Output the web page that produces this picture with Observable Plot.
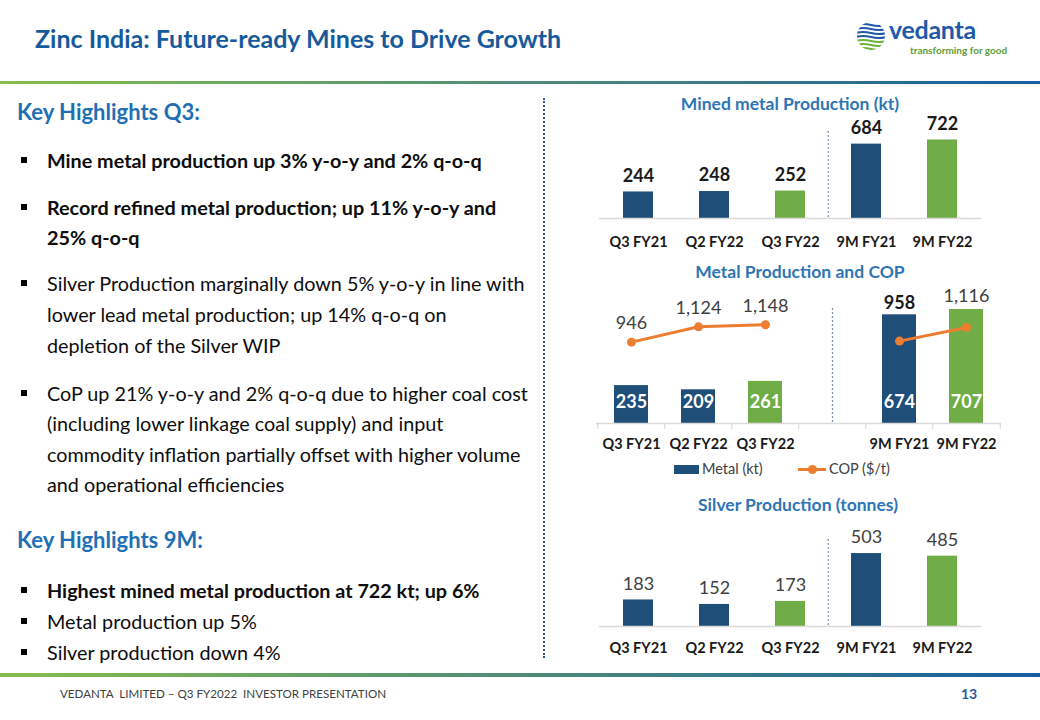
<!DOCTYPE html>
<html><head><meta charset="utf-8">
<script src="https://cdn.jsdelivr.net/npm/d3@7"></script>
<script src="https://cdn.jsdelivr.net/npm/@observablehq/plot@0.6"></script>
<style>
body{margin:0;background:#fff;}
#slide{position:relative;width:1040px;height:720px;overflow:hidden;background:#fff;font-family:Lato,"Open Sans",sans-serif;color:#0d0d0d;}
.abs{position:absolute;white-space:nowrap;}
.title{left:35px;top:23px;font-size:25px;font-weight:bold;color:#175a9c;line-height:30px;}
.hdr{left:17px;font-size:22px;font-weight:bold;color:#1f6fb5;line-height:30px;}
.blt{left:47px;font-size:19.8px;}
.blt .sq{position:absolute;left:-26px;width:6px;height:6px;background:#000;}
.b{font-weight:bold;}
.ctitle{font-size:17.5px;font-weight:bold;color:#2e75b6;text-align:center;width:320px;line-height:20px;}
.chart{position:absolute;}
.legend{font-size:14.5px;color:#404040;line-height:18px;}
</style></head><body><div id="slide">
  <div class="abs title">Zinc India: Future-ready Mines to Drive Growth</div>
  <div class="abs" style="left:0;top:81px;width:1040px;height:3px;background:linear-gradient(to right,#86bd4f,#1a5ca0);"></div>
  <svg class="abs" style="left:855px;top:20px" width="32" height="32" viewBox="0 0 32 32">
    <defs><clipPath id="gc"><circle cx="16" cy="16" r="14"/></clipPath></defs>
    <g clip-path="url(#gc)" fill="none" stroke-width="2.2">
      <path d="M0 5 Q8 3 16 5 T32 5" stroke="#1e5aa8"/>
      <path d="M0 9 Q8 7 16 9 T32 9" stroke="#1e5aa8"/>
      <path d="M0 13 Q8 11 16 13 T32 13" stroke="#1e5aa8"/>
      <path d="M0 17 Q8 15 16 17 T32 17" stroke="#1e5aa8"/>
      <path d="M0 21 Q8 19 16 21 T32 21" stroke="#6db33f"/>
      <path d="M0 25 Q8 23 16 25 T32 25" stroke="#6db33f"/>
      <path d="M0 29 Q8 27 16 29 T32 29" stroke="#6db33f"/>
    </g>
  </svg>
  <div class="abs" style="left:889px;top:18px;font-size:25px;font-weight:bold;color:#1e5aa8;line-height:22px;letter-spacing:-0.3px;">vedanta</div>
  <div class="abs" style="left:910px;top:45px;font-size:10px;font-weight:bold;color:#5a9e3a;line-height:11px;">transforming for good</div>

  <div class="abs hdr" style="top:97px">Key Highlights Q3:</div>
  <div class="abs blt b" style="top:145px;line-height:30px"><span class="sq" style="top:12px"></span>Mine metal production up 3% y-o-y and 2% q-o-q</div>
  <div class="abs blt b" style="top:192px;line-height:30px"><span class="sq" style="top:12px"></span>Record refined metal production; up 11% y-o-y and<br>25% q-o-q</div>
  <div class="abs blt" style="top:268px;line-height:31px"><span class="sq" style="top:12px"></span>Silver Production marginally down 5% y-o-y in line with<br>lower lead metal production; up 14% q-o-q on<br>depletion of the Silver WIP</div>
  <div class="abs blt" style="top:378px;line-height:30.3px"><span class="sq" style="top:12px"></span>CoP up 21% y-o-y and 2% q-o-q due to higher coal cost<br>(including lower linkage coal supply) and input<br>commodity inflation partially offset with higher volume<br>and operational efficiencies</div>
  <div class="abs hdr" style="top:525px">Key Highlights 9M:</div>
  <div class="abs blt b" style="top:575px;line-height:31px"><span class="sq" style="top:12px"></span>Highest mined metal production at 722 kt; up 6%</div>
  <div class="abs blt" style="top:606px;line-height:31px"><span class="sq" style="top:12px"></span>Metal production up 5%</div>
  <div class="abs blt" style="top:637px;line-height:31px"><span class="sq" style="top:12px"></span>Silver production down 4%</div>

  <div class="abs" style="left:543px;top:98px;height:560px;border-left:2px dotted #2f5597;"></div>

  <div class="abs ctitle" style="left:630px;top:94px">Mined metal Production (kt)</div>
  <div class="abs ctitle" style="left:640px;top:262px">Metal Production and COP</div>
  <div class="abs ctitle" style="left:638px;top:495px">Silver Production (tonnes)</div>

  <div class="abs" style="left:674px;top:465px;width:25px;height:9px;background:#1f4e79;"></div>
  <div class="abs legend" style="left:702px;top:460px">Metal (kt)</div>
  <div class="abs" style="left:798px;top:468px;width:28px;height:3px;background:#ed7d31;"></div>
  <div class="abs" style="left:808px;top:465px;width:9px;height:9px;border-radius:50%;background:#ed7d31;"></div>
  <div class="abs legend" style="left:829px;top:460px">COP ($/t)</div>

  <div class="abs" style="left:0;top:673px;width:1040px;height:4px;background:linear-gradient(to right,#86bd4f,#1a5ca0);"></div>
  <div class="abs" style="left:60px;top:687px;font-size:11.6px;color:#404040;line-height:14px;">VEDANTA &nbsp;LIMITED – Q3 FY2022 &nbsp;INVESTOR PRESENTATION</div>
  <div class="abs" style="left:961px;top:685px;font-size:14px;font-weight:bold;color:#1f5c99;line-height:18px;">13</div>
</div>
<script>
const categories = ["Q3 FY21", "Q2 FY22", "Q3 FY22", "9M FY21", "9M FY22"];
const currentPeriods = ["Q3 FY22", "9M FY22"];
const minedMetal = [244, 248, 252, 684, 722];
const metalProduction = [235, 209, 261, 674, 707];
const copPerTonne = [946, 1124, 1148, 958, 1116];
const silverProduction = [183, 152, 173, 503, 485];
const METAL_AXIS_MAX = 800;
const COP_AXIS_MAX = 1500;
const GAP = " ";

const BLUE = "#1f4e79", GREEN = "#70ad47", ORANGE = "#ed7d31";
const fmt = d3.format(",");
const slide = document.getElementById("slide");
const baseStyle = {fontFamily: "Lato, 'Open Sans', sans-serif", fontSize: "14.5px", fontWeight: "bold", color: "#1a1a1a", background: "transparent", overflow: "visible"};
const colorScale = {type: "ordinal", domain: ["prior", "current"], range: [BLUE, GREEN]};
const periodOf = c => currentPeriods.includes(c) ? "current" : "prior";

function place(el, left, top) {
  el.classList.add("chart");
  el.style.left = left + "px";
  el.style.top = top + "px";
  slide.appendChild(el);
}

function simpleBars(values, yMax, opts) {
  const rows = categories.map((c, i) => ({cat: c, value: values[i], period: periodOf(c)}));
  const width = 420, ml = 19, mr = 19;
  const step = (width - ml - mr) / categories.length;
  return Plot.plot({
    width, height: opts.height, marginLeft: ml, marginRight: mr, marginTop: opts.mt, marginBottom: opts.mb,
    x: {domain: categories, paddingInner: 0.6, paddingOuter: 0.3, tickSize: 0, tickPadding: opts.pad, label: null},
    y: {domain: [0, yMax], axis: null},
    color: colorScale,
    style: baseStyle,
    marks: [
      Plot.barY(rows, {x: "cat", y: "value", fill: "period"}),
      Plot.ruleY([0], {stroke: "#d9d9d9", strokeWidth: 1.5}),
      Plot.ruleX([categories[3]], {x: d => d, dx: -step / 2, stroke: "#8497b0", strokeWidth: 1.3, strokeDasharray: "2,2"}),
      Plot.text(rows, {x: "cat", y: "value", text: d => fmt(d.value), dy: -16, fontSize: 18, fontWeight: opts.labelWeight, fill: opts.labelColor})
    ]
  });
}

place(simpleBars(minedMetal, 800, {height: 148, mt: 21, mb: 40, pad: 18, labelWeight: "bold", labelColor: "#1a1a1a"}), 580, 110);
place(simpleBars(silverProduction, 600, {height: 146, mt: 24, mb: 35, pad: 16, labelWeight: "normal", labelColor: "#404040"}), 580, 515);

// Chart 2: Metal production bars + COP line (secondary axis mapped onto the metal axis)
const domain2 = [categories[0], categories[1], categories[2], GAP, categories[3], categories[4]];
const rows2 = categories.map((c, i) => ({
  cat: c, metal: metalProduction[i], cop: copPerTonne[i],
  copY: copPerTonne[i] * METAL_AXIS_MAX / COP_AXIS_MAX,
  group: c.startsWith("9M") ? "9M" : "Q", period: periodOf(c)
}));
const w2 = 440, ml2 = 16, mr2 = 19;
const step2 = (w2 - ml2 - mr2) / domain2.length;
const chart2 = Plot.plot({
  width: w2, height: 173, marginLeft: ml2, marginRight: mr2, marginTop: 14, marginBottom: 30,
  x: {domain: domain2, paddingInner: 0.5, paddingOuter: 0.25, tickSize: 0, tickPadding: 15, label: null},
  y: {domain: [0, METAL_AXIS_MAX], axis: null},
  color: colorScale,
  style: baseStyle,
  marks: [
    Plot.barY(rows2, {x: "cat", y: "metal", fill: "period"}),
    Plot.ruleY([0], {stroke: "#d9d9d9", strokeWidth: 1.5}),
    Plot.ruleX(domain2, {x: d => d, dx: -step2 / 2, y1: 0, y2: -36, stroke: "#d9d9d9", strokeWidth: 1.2}),
    Plot.ruleX([domain2[domain2.length - 1]], {x: d => d, dx: step2 / 2, y1: 0, y2: -36, stroke: "#d9d9d9", strokeWidth: 1.2}),
    Plot.ruleX([GAP], {x: d => d, insetTop: 14, stroke: "#8497b0", strokeWidth: 1.3, strokeDasharray: "2,2"}),
    Plot.line(rows2, {x: "cat", y: "copY", z: "group", stroke: ORANGE, strokeWidth: 3}),
    Plot.dot(rows2, {x: "cat", y: "copY", r: 4.5, fill: ORANGE}),
    Plot.text(rows2.filter(d => d.group === "Q"), {x: "cat", y: "copY", text: d => fmt(d.cop), dy: -19, fontSize: 18, fontWeight: "normal", fill: "#404040"}),
    Plot.text(rows2.filter(d => d.cat === categories[3]), {x: "cat", y: "metal", text: d => fmt(d.cop), dy: -12, fontSize: 18, fontWeight: "bold", fill: "#1a1a1a"}),
    Plot.text(rows2.filter(d => d.cat === categories[4]), {x: "cat", y: "metal", text: d => fmt(d.cop), dy: -13, fontSize: 18, fontWeight: "normal", fill: "#404040"}),
    Plot.text(rows2, {x: "cat", text: d => fmt(d.metal), frameAnchor: "bottom", dy: -16, fontSize: 18, fontWeight: "bold", fill: "white"})
  ]
});
place(chart2, 580, 280);
</script>
</body></html>
